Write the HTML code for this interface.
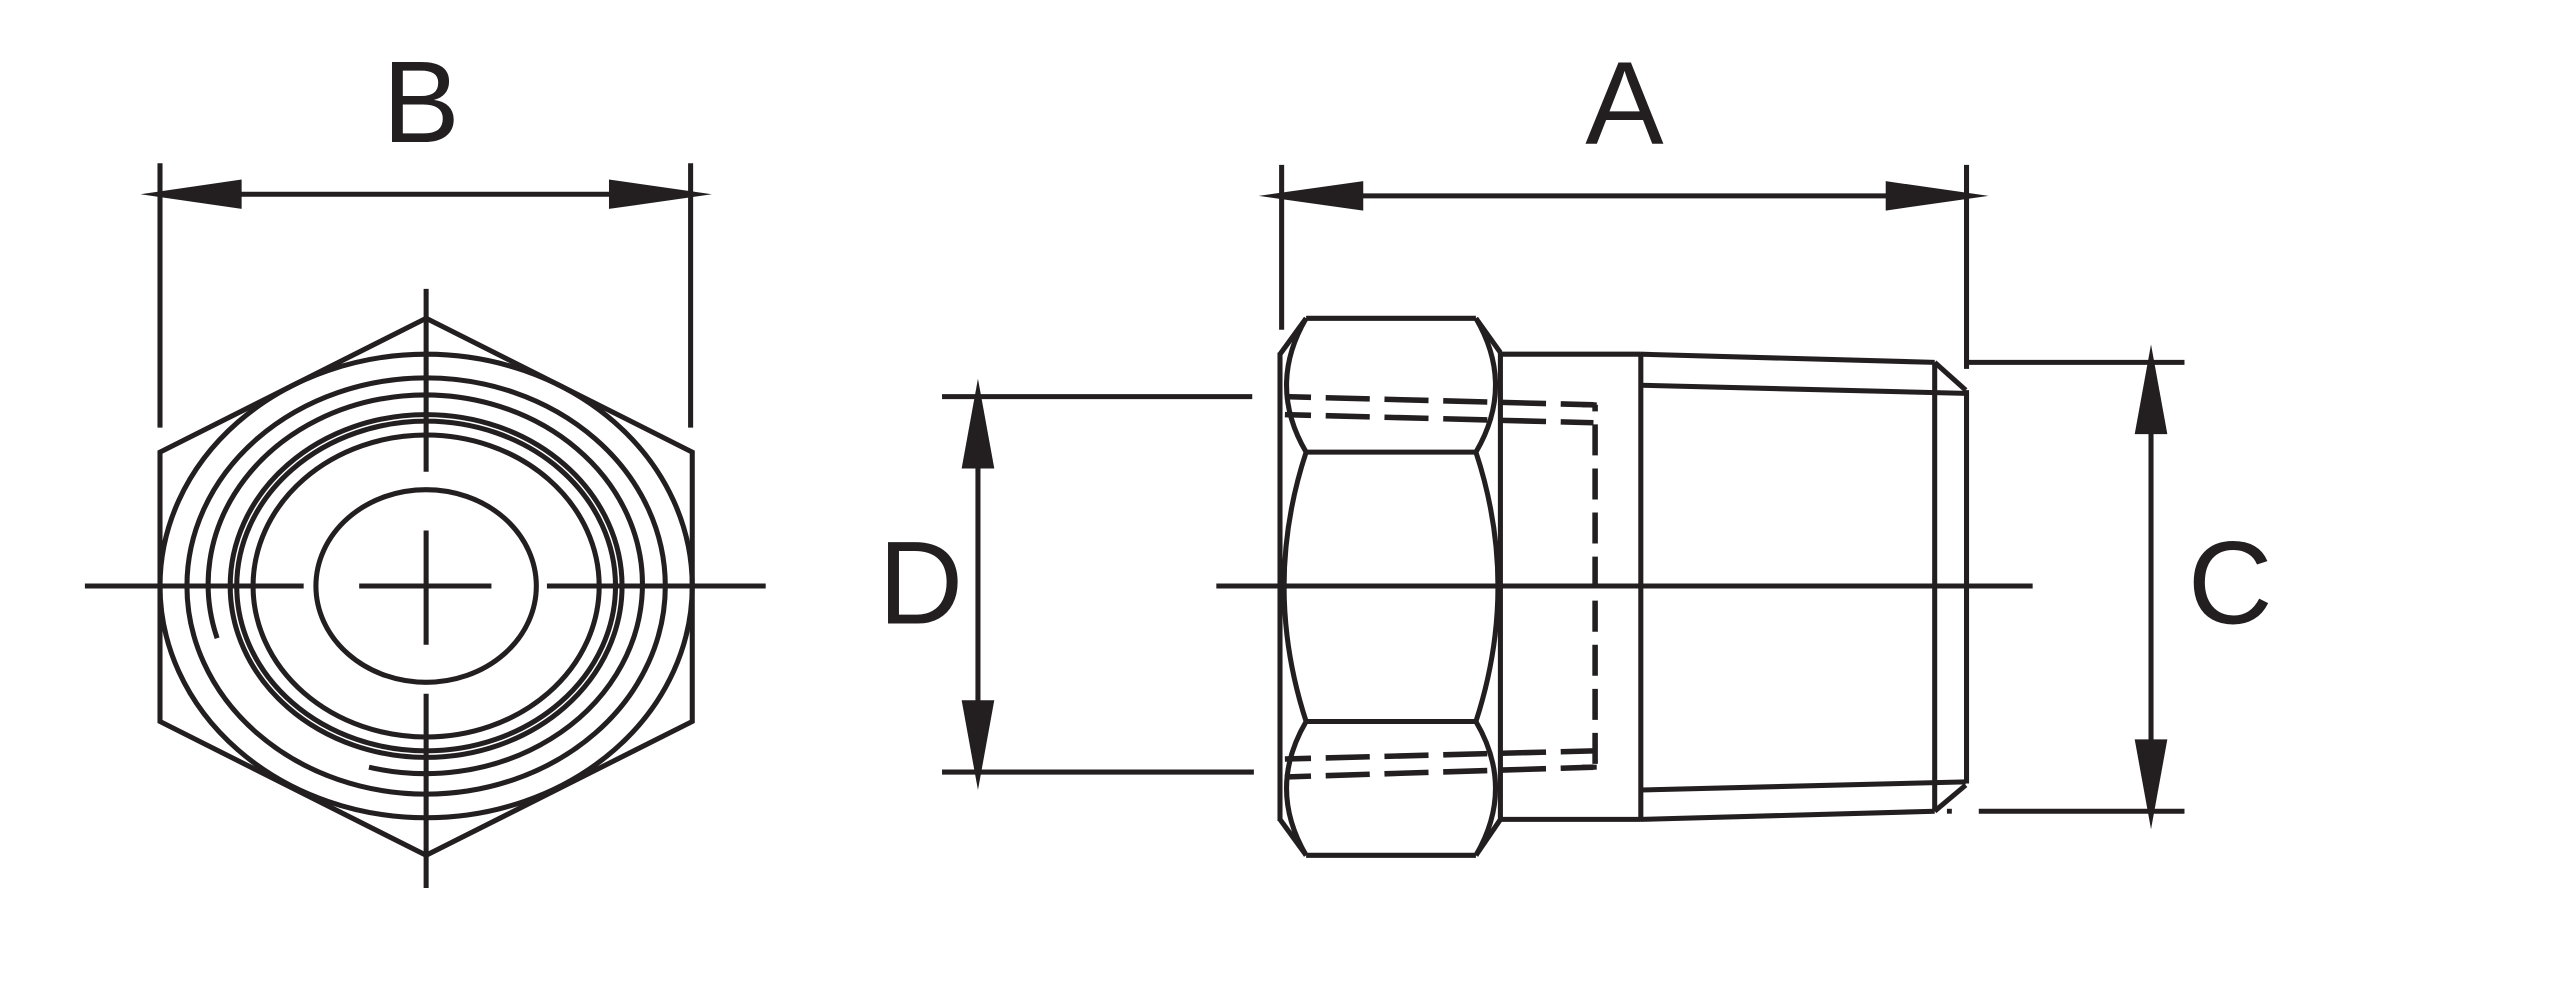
<!DOCTYPE html>
<html><head><meta charset="utf-8"><style>
html,body{margin:0;padding:0;background:#fff;}
svg{display:block;}
text{font-family:"Liberation Sans",Arial,sans-serif;fill:#231f20;}
</style></head><body>
<svg width="2560" height="981" viewBox="0 0 1568 601" preserveAspectRatio="none" xmlns="http://www.w3.org/2000/svg">
<g fill="none" stroke="#231f20" stroke-width="3.1">
<!-- LEFT VIEW -->
<line x1="98" y1="100" x2="98" y2="262"/>
<line x1="423" y1="100" x2="423" y2="262"/>
<line x1="140" y1="119" x2="380" y2="119"/>
<polygon points="261,195 424,277 424,442 261,524 98,442 98,277"/>
<line x1="261" y1="177" x2="261" y2="289"/>
<line x1="261" y1="325" x2="261" y2="395"/>
<line x1="261" y1="425" x2="261" y2="544"/>
<line x1="52" y1="359" x2="186" y2="359"/>
<line x1="220" y1="359" x2="301" y2="359"/>
<line x1="335" y1="359" x2="469" y2="359"/>
<ellipse cx="261" cy="359" rx="163" ry="142"/>
<ellipse cx="261" cy="359" rx="146.5" ry="127.5"/>
<path d="M226,470 A133,116 0 1 0 133,391"/>
<ellipse cx="261" cy="359" rx="120" ry="105"/>
<ellipse cx="261" cy="359" rx="116" ry="101"/>
<ellipse cx="261" cy="359" rx="106" ry="92.5"/>
<ellipse cx="261" cy="359" rx="67.5" ry="59"/>

<!-- RIGHT VIEW -->
<line x1="785" y1="101" x2="785" y2="202"/>
<line x1="1204.5" y1="101" x2="1204.5" y2="226"/>
<line x1="830" y1="120" x2="1160" y2="120"/>
<line x1="745" y1="359" x2="1245" y2="359"/>
<!-- nut -->
<line x1="784" y1="216" x2="784" y2="503"/>
<line x1="800" y1="195" x2="904" y2="195"/>
<line x1="800" y1="277" x2="904" y2="277"/>
<line x1="800" y1="442" x2="904" y2="442"/>
<line x1="800" y1="524" x2="904" y2="524"/>
<line x1="800" y1="195" x2="784" y2="217"/>
<line x1="904" y1="195" x2="919" y2="216"/>
<line x1="784" y1="502" x2="800" y2="524"/>
<line x1="919" y1="502" x2="904" y2="524"/>
<path d="M800,195 Q776,236 800,277"/>
<path d="M904,195 Q928,236 904,277"/>
<path d="M800,277 Q773,359 800,442"/>
<path d="M904,277 Q931,359 904,442"/>
<path d="M800,442 Q776,483 800,524"/>
<path d="M904,442 Q928,483 904,524"/>
<line x1="919" y1="216" x2="919" y2="503"/>
<line x1="919" y1="217" x2="1005" y2="217"/>
<line x1="919" y1="502" x2="1005" y2="502"/>
<line x1="1005" y1="216" x2="1005" y2="503"/>
<!-- taper -->
<line x1="1005" y1="217" x2="1185" y2="222"/>
<line x1="1005" y1="236" x2="1204" y2="241"/>
<line x1="1185" y1="222" x2="1204" y2="239"/>
<line x1="1185" y1="222" x2="1185" y2="497"/>
<line x1="1204.5" y1="239" x2="1204.5" y2="480"/>
<line x1="1005" y1="502" x2="1185" y2="497"/>
<line x1="1005" y1="484" x2="1204" y2="479"/>
<line x1="1185" y1="497" x2="1204" y2="481"/>
<!-- dashed -->
<g stroke-dasharray="27 9" stroke-dashoffset="11" stroke-width="3.4">
<line x1="787" y1="243" x2="976" y2="248"/>
<line x1="787" y1="254" x2="976" y2="259"/>
<line x1="787" y1="465" x2="976" y2="460"/>
<line x1="787" y1="476" x2="976" y2="470"/>
</g>
<line x1="977" y1="248" x2="977" y2="470" stroke-dasharray="19 8" stroke-dashoffset="-12" stroke-width="3.4"/>
<line x1="969" y1="248" x2="978" y2="248"/>
<line x1="969" y1="470" x2="978" y2="470"/>
<!-- D dim -->
<line x1="577" y1="243" x2="767" y2="243"/>
<line x1="577" y1="473" x2="768" y2="473"/>
<line x1="599" y1="280" x2="599" y2="435"/>
<!-- C dim -->
<line x1="1206" y1="222" x2="1338" y2="222"/>
<line x1="1212" y1="497" x2="1338" y2="497"/>
<line x1="1317.5" y1="260" x2="1317.5" y2="460"/>
</g>
<g fill="#231f20">
<polygon points="86,119 148,110 148,128"/>
<polygon points="436,119 373,110 373,128"/>
<polygon points="771,120 835,111 835,129"/>
<polygon points="1218,120 1155,111 1155,129"/>
<polygon points="599,232 589,287 609,287"/>
<polygon points="599,484 589,429 609,429"/>
<polygon points="1317.5,211 1307.5,266 1327.5,266"/>
<polygon points="1317.5,508 1307.5,453 1327.5,453"/>
<rect x="1192.5" y="495.5" width="3" height="3"/>
</g>
<text x="258" y="87" font-size="71" text-anchor="middle">B</text>
<text x="995" y="88" font-size="72" text-anchor="middle">A</text>
<text x="564" y="382" font-size="72" text-anchor="middle">D</text>
<text x="1366" y="382" font-size="72" text-anchor="middle">C</text>
</svg>
</body></html>
